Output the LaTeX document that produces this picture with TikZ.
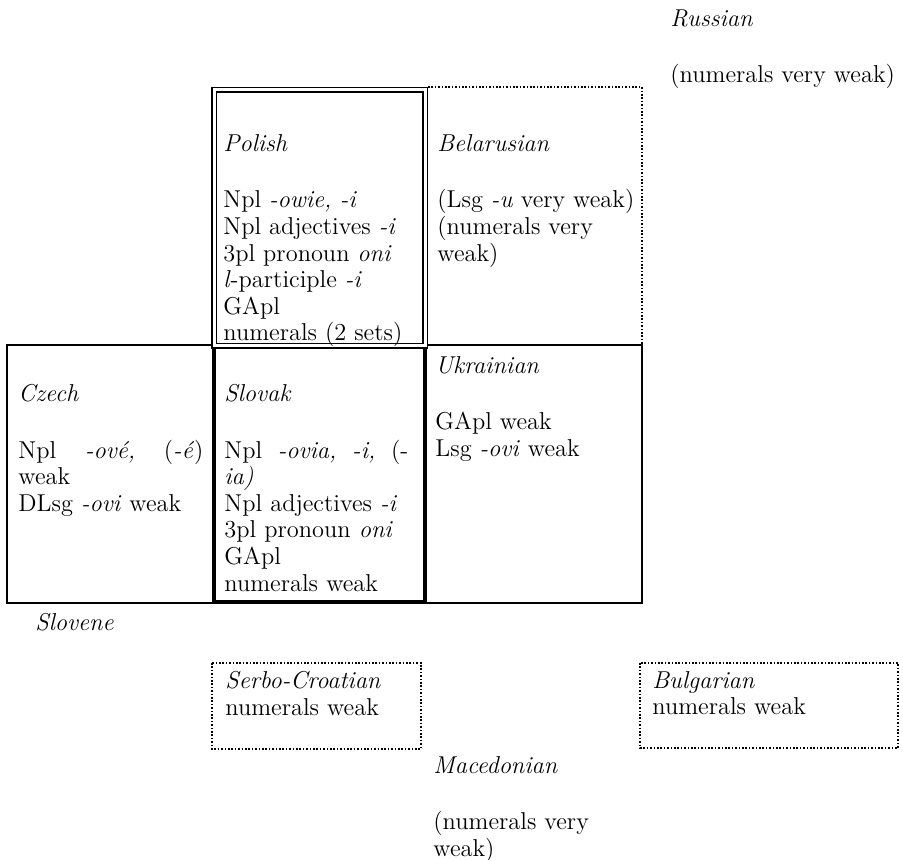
\documentclass[tikz,border=0pt]{standalone}
\usepackage{fontspec}
\usepackage{tikz}
\usetikzlibrary{positioning}
\newcommand{\lname}[1]{{\itshape\addfontfeature{LetterSpace=7}#1}}

\begin{document}
\begin{tikzpicture}[
		x=0.5pt, y=-0.5pt,
		cell/.style = {anchor=north west, inner sep=0pt, align=left,
			font=\fontsize{12.2}{13.3}\selectfont},
		wide/.style = {cell, text width=#1},
		thinbox/.style = {line width=0.75pt},
		thickbox/.style = {line width=1.8pt},
		dotbox/.style = {line width=1pt, dash pattern=on 0.8pt off 0.9pt},
		dblbox/.style = {double, double distance=1.5pt, line width=0.8pt}
	]
	\useasboundingbox (0,0) rectangle (903,860);
	% Boxes.
	\draw[thinbox] (7,345) rectangle (642,603);
	\draw[dotbox] (428,87) -- (642,87) -- (642,345);
	\draw[dblbox] (214,90) rectangle (425,346);
	\draw[thickbox] (214,348) -- (214,602) -- (425,602) -- (425,348);
	\draw[dotbox] (212,663) rectangle (421,749);
	\draw[dotbox] (640,663) rectangle (898,748);
	% Top row.
	\node[cell] (rus) at (670,9) {\lname{Russian}\\[15pt](numerals very weak)};
	\node[cell] (pol) at (223,134) {\lname{Polish}\\[15pt]
		Npl \textit{-owie, -i}\\
		Npl adjectives \textit{-i}\\
		3pl pronoun \textit{oni}\\
		\textit{l}-participle \textit{-i}\\
		GApl\\
		numerals (2 sets)};
	\node[cell] (bel) at (437,134) {\lname{Belarusian}\\[15pt]
		(Lsg \textit{-u} very weak)\\
		(numerals very\\
		weak)};
	% Middle row.
	\node[wide=92.5pt] (cze) at (18,384) {\lname{Czech}\\[15pt]
		Npl \hfill \textit{-ové,} \hfill (\textit{-é})\\
		weak\\
		DLsg \textit{-ovi} weak};
	\node[wide=92pt] (slk) at (224,384) {\lname{Slovak}\\[15pt]
		Npl \hfill \textit{-ovia,} \hfill \textit{-i,} \hfill (-\\
		\lname{ia)}\\
		Npl adjectives \textit{-i}\\
		3pl pronoun \textit{oni}\\
		GApl\\
		numerals weak};
	\node[cell] (ukr) at (435,356) {\lname{Ukrainian}\\[15pt]
		GApl weak\\
		Lsg \textit{-ovi} weak};
	% Bottom row.
	\node[cell] (slv) at (35,613) {\lname{Slovene}};
	\node[cell] (src) at (225,671) {\lname{Serbo-Croatian}\\numerals weak};
	\node[cell] (bul) at (652,671) {\lname{Bulgarian}\\numerals weak};
	\node[cell] (mac) at (433,756) {\lname{Macedonian}\\[15pt]
		(numerals very\\
		weak)};
\end{tikzpicture}
\end{document}
